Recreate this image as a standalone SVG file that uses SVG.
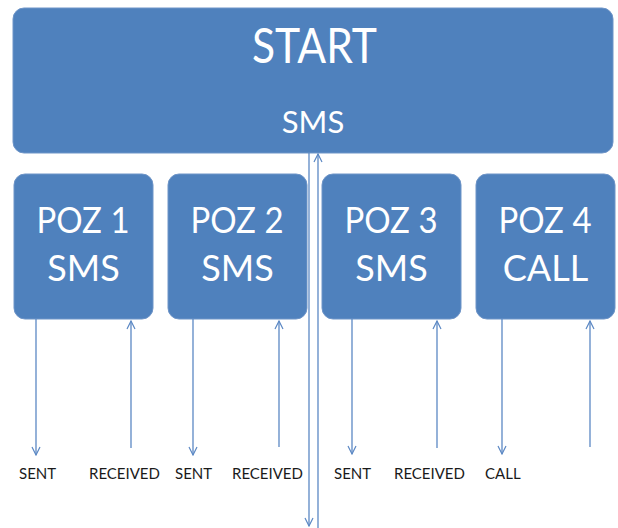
<svg xmlns="http://www.w3.org/2000/svg" width="618" height="528" viewBox="0 0 618 528">
<defs>
<style>
.box{fill:#4f81bd;stroke:#6f95c8;stroke-width:1}
.t{fill:#ffffff;font-family:Lato,"Open Sans",sans-serif;text-anchor:middle}
.lbl{fill:#1a1a1a;font-family:Lato,"Open Sans",sans-serif;font-size:15px}
.c{stroke:#5b88c4;stroke-width:1.3;fill:none}
</style>
<marker id="ah" viewBox="0 0 10 10" refX="9" refY="5" markerWidth="10" markerHeight="10" orient="auto" markerUnits="userSpaceOnUse">
<path d="M1,1 L9,5 L1,9" fill="none" stroke="#5b88c4" stroke-width="1.2"/>
</marker>
</defs>
<rect width="618" height="528" fill="#ffffff"/>
<g id="start">
<rect class="box" x="13" y="8" width="600" height="145" rx="11"/>
<text class="t" x="314.5" y="63" font-size="48" textLength="125" lengthAdjust="spacingAndGlyphs">START</text>
<text class="t" x="313" y="133" font-size="31">SMS</text>
</g>
<g id="poz1">
<rect class="box" x="14" y="174" width="139" height="145" rx="11"/>
<text class="t" x="83" y="233" font-size="36" textLength="93" lengthAdjust="spacingAndGlyphs">POZ 1</text>
<text class="t" x="83.5" y="281" font-size="36">SMS</text>
</g>
<g id="poz2">
<rect class="box" x="168" y="174" width="139" height="145" rx="11"/>
<text class="t" x="237" y="233" font-size="36" textLength="93" lengthAdjust="spacingAndGlyphs">POZ 2</text>
<text class="t" x="237.5" y="281" font-size="36">SMS</text>
</g>
<g id="poz3">
<rect class="box" x="322" y="174" width="139" height="145" rx="11"/>
<text class="t" x="391" y="233" font-size="36" textLength="93" lengthAdjust="spacingAndGlyphs">POZ 3</text>
<text class="t" x="391.5" y="281" font-size="36">SMS</text>
</g>
<g id="poz4">
<rect class="box" x="476" y="174" width="139" height="145" rx="11"/>
<text class="t" x="545" y="233" font-size="36" textLength="93" lengthAdjust="spacingAndGlyphs">POZ 4</text>
<text class="t" x="545.5" y="281" font-size="36">CALL</text>
</g>
<g id="connectors">
<line class="c" x1="309" y1="153" x2="309" y2="526" marker-end="url(#ah)"/>
<line class="c" x1="318" y1="528" x2="318" y2="154" marker-end="url(#ah)"/>
<line class="c" x1="36" y1="319" x2="36" y2="455" marker-end="url(#ah)"/>
<line class="c" x1="131" y1="448" x2="131" y2="321" marker-end="url(#ah)"/>
<line class="c" x1="193" y1="319" x2="193" y2="455" marker-end="url(#ah)"/>
<line class="c" x1="279" y1="447" x2="279" y2="321" marker-end="url(#ah)"/>
<line class="c" x1="352" y1="319" x2="352" y2="454" marker-end="url(#ah)"/>
<line class="c" x1="437" y1="448" x2="437" y2="321" marker-end="url(#ah)"/>
<line class="c" x1="502" y1="319" x2="502" y2="454" marker-end="url(#ah)"/>
<line class="c" x1="590" y1="447" x2="590" y2="321" marker-end="url(#ah)"/>
</g>
<g id="labels">
<text class="lbl" x="19" y="479">SENT</text>
<text class="lbl" x="89" y="479">RECEIVED</text>
<text class="lbl" x="175" y="479">SENT</text>
<text class="lbl" x="232" y="479">RECEIVED</text>
<text class="lbl" x="334" y="479">SENT</text>
<text class="lbl" x="394" y="479">RECEIVED</text>
<text class="lbl" x="485" y="479">CALL</text>
</g>
</svg>
